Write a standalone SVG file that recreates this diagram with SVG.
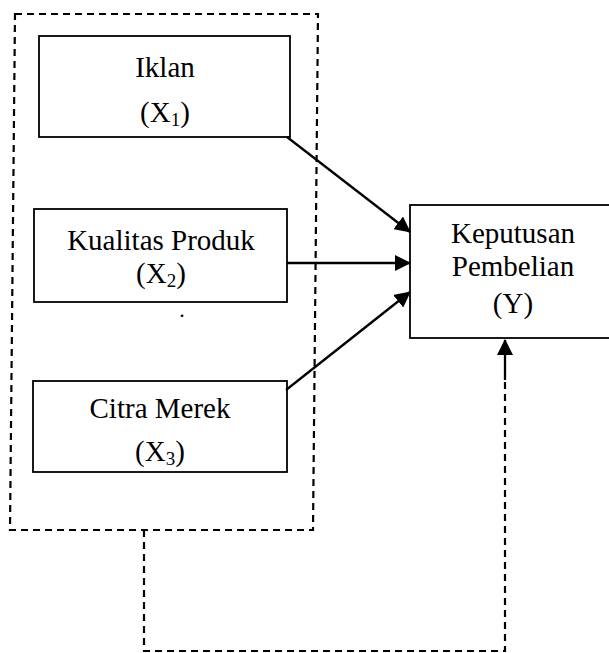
<svg xmlns="http://www.w3.org/2000/svg" width="609" height="653" viewBox="0 0 609 653">
  <defs>
    <style>
      .box { fill: #ffffff; stroke: #000000; stroke-width: 1.8; }
      .lbl { font-family: "Liberation Serif", "Times New Roman", serif; font-size: 29px; fill: #000000; text-anchor: middle; }
      .sub { font-size: 19px; }
      .dash { fill: none; stroke: #000000; stroke-width: 2.2; stroke-dasharray: 7 5; }
      .arrow { fill: none; stroke: #000000; stroke-width: 2.3; marker-end: url(#ah); }
    </style>
    <marker id="ah" markerUnits="userSpaceOnUse" markerWidth="16" markerHeight="16" viewBox="0 0 16 16" refX="15" refY="8" orient="auto">
      <path d="M0,0 L16,8 L0,16 Z" fill="#000000"/>
    </marker>
  </defs>
  <rect width="609" height="653" fill="#ffffff"/>

  <g id="group-x">
    <path class="dash" d="M15,14 H318 L313,530 H10 Z"/>
  </g>

  <g id="iklan">
    <rect class="box" x="39" y="36" width="251" height="101"/>
    <text class="lbl" x="165" y="77">Iklan</text>
    <text class="lbl" x="165" y="122">(X<tspan class="sub" dy="4">1</tspan><tspan dy="-4">)</tspan></text>
  </g>

  <g id="kualitas-produk">
    <rect class="box" x="34" y="209" width="253" height="93"/>
    <text class="lbl" x="161" y="250">Kualitas Produk</text>
    <text class="lbl" x="161" y="283">(X<tspan class="sub" dy="4">2</tspan><tspan dy="-4">)</tspan></text>
    <text class="lbl" x="182" y="317" style="font-size:22px">.</text>
  </g>

  <g id="citra-merek">
    <rect class="box" x="33" y="381" width="254" height="91"/>
    <text class="lbl" x="160" y="418">Citra Merek</text>
    <text class="lbl" x="160" y="461">(X<tspan class="sub" dy="4">3</tspan><tspan dy="-4">)</tspan></text>
  </g>

  <g id="keputusan-pembelian">
    <rect class="box" x="410" y="205" width="206" height="133"/>
    <text class="lbl" x="513" y="243">Keputusan</text>
    <text class="lbl" x="513" y="276">Pembelian</text>
    <text class="lbl" x="513" y="313">(Y)</text>
  </g>

  <g id="connectors">
    <line class="arrow" x1="287" y1="137" x2="410" y2="232"/>
    <line class="arrow" x1="287" y1="263" x2="410" y2="263"/>
    <line class="arrow" x1="286" y1="390" x2="410" y2="292"/>
    <path class="dash" d="M144,530 V651 H505 V380"/>
    <line class="arrow" x1="505" y1="380" x2="505" y2="340"/>
  </g>
</svg>
